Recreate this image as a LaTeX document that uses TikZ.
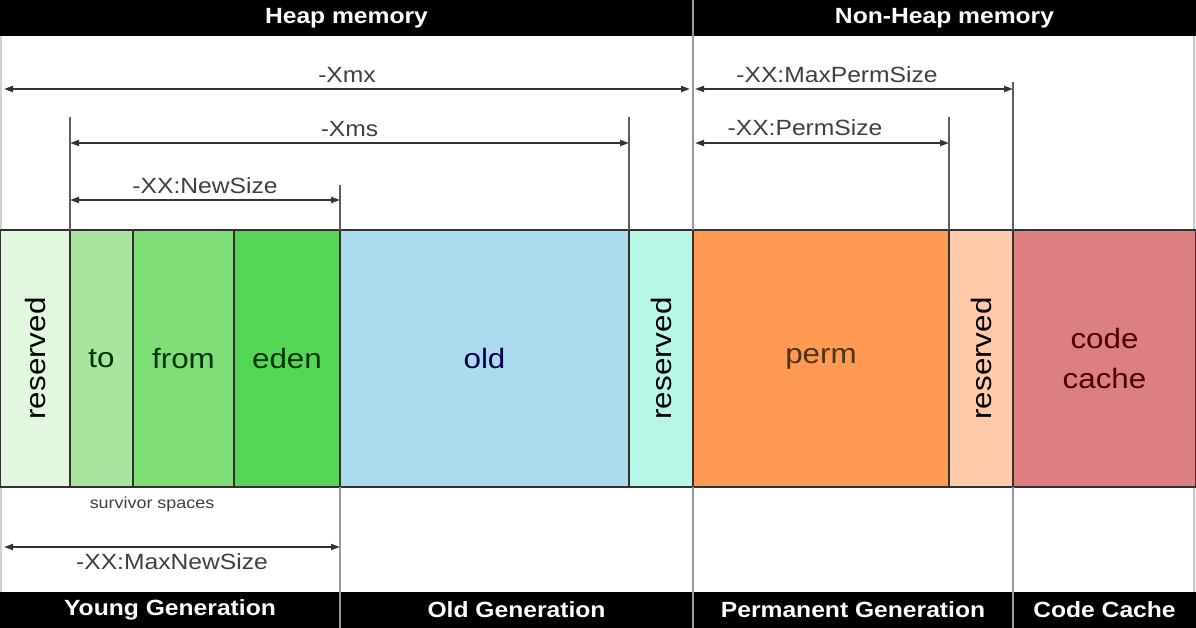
\documentclass[tikz,border=0pt]{standalone}
\usepackage{fontspec}
\usepackage{graphicx}
\setmainfont{Liberation Sans}[FakeStretch=1.12]
\usetikzlibrary{arrows.meta,positioning}
\definecolor{resgreen}{RGB}{226,248,222}
\definecolor{togreen}{RGB}{170,229,160}
\definecolor{fromgreen}{RGB}{128,222,120}
\definecolor{edengreen}{RGB}{86,214,86}
\definecolor{oldblue}{RGB}{170,220,238}
\definecolor{resaqua}{RGB}{184,246,232}
\definecolor{permorange}{RGB}{255,154,82}
\definecolor{respeach}{RGB}{255,202,170}
\definecolor{coderose}{RGB}{221,127,129}
\definecolor{edgegray}{RGB}{50,50,50}
\definecolor{guidegray}{RGB}{95,95,95}

\begin{document}
\begin{tikzpicture}[x=1pt, y=-1pt,
  bar/.style={fill=black, text=white, inner sep=0pt, outer sep=0pt, minimum height=36pt, anchor=north west, font=\fontsize{22}{26}\selectfont\bfseries},
  block/.style={draw=edgegray, line width=1.6pt, inner sep=0pt, outer sep=0pt, minimum height=257pt, font=\fontsize{28}{40}\selectfont, align=center},
  guide/.style={draw=guidegray, line width=1.6pt},
  divider/.style={draw=gray!80, line width=2pt},
  dim/.style={{Triangle[length=9pt,width=6pt]}-{Triangle[length=9pt,width=6pt]}, line width=1.8pt, draw=black!80},
  dimlabel/.style={font=\fontsize{22}{26}\selectfont, text=black!75}
]
\useasboundingbox (0,0) rectangle (1196,628);
\fill[white] (0,0) rectangle (1196,628);
% heading bars
\node[bar, minimum width=693pt] (heap) at (0,0) {Heap memory};
\node[bar, minimum width=503pt] (nonheap) at (693,0) {Non-Heap memory};
\node[bar, minimum width=340pt] (young) at (0,592) {Young Generation};
\node[bar, minimum width=353pt] (oldgen) at (340,592) {Old Generation};
\node[bar, minimum width=320pt] (permgen) at (693,592) {Permanent Generation};
\node[bar, minimum width=183pt] (codegen) at (1013,592) {Code Cache};
% outer edges
\draw[draw=gray!35, line width=2pt] (1,36) -- (1,592);
\draw[draw=gray!45, line width=2pt] (1194,36) -- (1194,592);
% memory blocks
\node[block, fill=resgreen, minimum width=70pt, anchor=north west] (resY) at (0,230) {\rotatebox{90}{reserved}};
\node[block, fill=togreen, minimum width=63pt, right=0pt of resY, text=green!20!black] (to) {to};
\node[block, fill=fromgreen, minimum width=101pt, right=0pt of to, text=green!20!black] (from) {from};
\node[block, fill=edengreen, minimum width=106pt, right=0pt of from, text=green!20!black] (eden) {eden};
\node[block, fill=oldblue, minimum width=289pt, right=0pt of eden, text=blue!30!black] (old) {old};
\node[block, fill=resaqua, minimum width=64pt, right=0pt of old] (resO) {\rotatebox{90}{reserved}};
\node[block, fill=permorange, minimum width=256pt, right=0pt of resO, text=brown!40!black] (perm) {perm};
\node[block, fill=respeach, minimum width=64pt, right=0pt of perm] (resP) {\rotatebox{90}{reserved}};
\node[block, fill=coderose, minimum width=183pt, right=0pt of resP, text=red!30!black] (code) {code\\cache};
% dividers
\draw[divider] (heap.north east) -- (resO.north east);
\draw[divider] (resO.south east) -- (permgen.south west);
\draw[divider] (eden.south east) -- (young.south east);
\draw[divider] (resP.south east) -- (codegen.south west);
% guide lines
\draw[guide] (to.north west) -- ++(0,-113);
\draw[guide] (old.north east) -- ++(0,-113);
\draw[guide] (eden.north east) -- ++(0,-45);
\draw[guide] (perm.north east) -- ++(0,-113);
\draw[guide] (resP.north east) -- ++(0,-148);
% dimension arrows
\coordinate (xmxL) at (4,89);
\coordinate (xmxR) at (690,89);
\draw[dim] (xmxL) -- (xmxR) node[midway, above=2pt, dimlabel] (xmx) {-Xmx};
\draw[dim] (to.north west |- 0,143) -- (old.north east |- 0,143) node[midway, above=2pt, dimlabel] (xms) {-Xms};
\draw[dim] (to.north west |- 0,200) -- (eden.north east |- 0,200) node[midway, above=2pt, dimlabel] (newsize) {-XX:NewSize};
\coordinate (mpsL) at (695,89);
\draw[dim] (mpsL) -- (resP.north east |- mpsL);
\node[dimlabel] (maxperm) at (837,75) {-XX:MaxPermSize};
\coordinate (psL) at (695,143);
\draw[dim] (psL) -- (perm.north east |- psL);
\node[dimlabel] (permsize) at (805,128) {-XX:PermSize};
% below the blocks
\node[font=\fontsize{16}{20}\selectfont, text=black!75] (survivor) at (152,504) {survivor spaces};
\coordinate (mnsL) at (4,547);
\draw[dim] (mnsL) -- (eden.south east |- mnsL) node[midway, below=2pt, dimlabel] (maxnew) {-XX:MaxNewSize};
\end{tikzpicture}
\end{document}
